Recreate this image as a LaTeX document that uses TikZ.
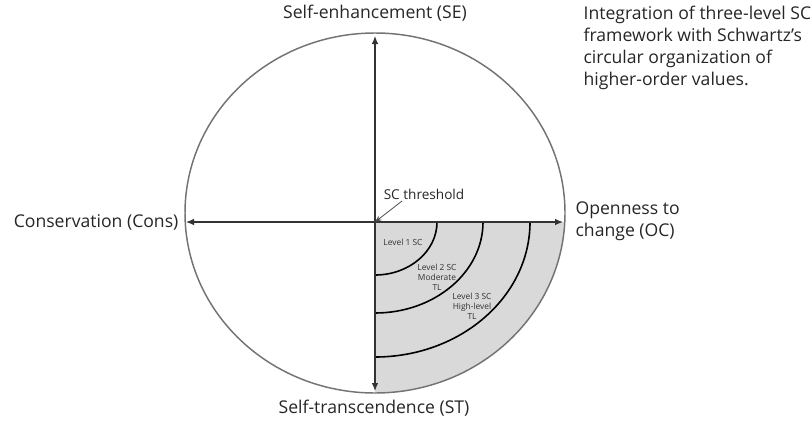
\documentclass[tikz,border=0pt]{standalone}
\usepackage{fontspec}
\setmainfont{Open Sans}
\usetikzlibrary{arrows.meta}

\tikzset{
  axis/.style={line width=0.9, draw=black!80, -{Latex[length=6,width=5]}},
  pointer/.style={line width=0.6, draw=black!70, -{Stealth[length=5,width=4]}},
  level/.style={line width=1.2, draw=black},
  biglabel/.style={text=black!85, font=\fontsize{13.2}{16.5}\selectfont, inner sep=1},
  smalllabel/.style={text=black!80, font=\fontsize{6.3}{7.4}\selectfont, align=center, inner sep=0}
}

\begin{document}
\begin{tikzpicture}[x=0.75pt,y=0.75pt,yscale=-1,xscale=1]
    \useasboundingbox (0,0) rectangle (812,421);
    \coordinate (O) at (375,222);

    % shaded lower-right quarter
    \begin{scope}
      \clip (375,213) circle [x radius=190, y radius=180];
      \fill [color={rgb, 255:red, 217; green, 217; blue, 217 }] (O) rectangle (570,400);
    \end{scope}
    \draw [color=black!55, line width=1.1] (375,213) circle [x radius=190, y radius=180];

    % three SC levels
    \draw [level] (437,222) arc [start angle=0, end angle=90, x radius=62, y radius=53];
    \draw [level] (483,222) arc [start angle=0, end angle=90, x radius=108, y radius=91];
    \draw [level] (530,222) arc [start angle=0, end angle=90, x radius=155, y radius=135];

    % axes
    \coordinate (setip) at (375,36);
    \coordinate (sttip) at (375,391);
    \coordinate (constip) at (186,222);
    \coordinate (octip) at (563,222);
    \draw [axis] (O) -- (setip);
    \draw [axis] (O) -- (sttip);
    \draw [axis] (O) -- (constip);
    \draw [axis] (O) -- (octip);

    \node [biglabel] (se) at (375,13) {Self-enhancement (SE)};
    \node [biglabel] (st) at (374,408) {Self-transcendence (ST)};
    \node [biglabel, anchor=east] (cons) at (180,222) {Conservation (Cons)};
    \node [biglabel, anchor=west, align=left] (oc) at (574,221) {Openness to\\change (OC)};
    \node [biglabel, anchor=north west, align=left] (note) at (582,4) {Integration of three-level SC\\framework with Schwartz’s\\circular organization of\\higher-order values.};

    \node [text=black!85, font=\fontsize{10.2}{12}\selectfont, inner sep=1] (thr) at (424,194) {SC threshold};
    \draw [pointer] (402,201) -- (O);

    \node [smalllabel] (l1) at (403,242) {Level 1 SC};
    \node [smalllabel] (l2) at (437,277) {Level 2 SC\\Moderate\\TL};
    \node [smalllabel] (l3) at (472,306) {Level 3 SC\\High-level\\TL};
\end{tikzpicture}
\end{document}
